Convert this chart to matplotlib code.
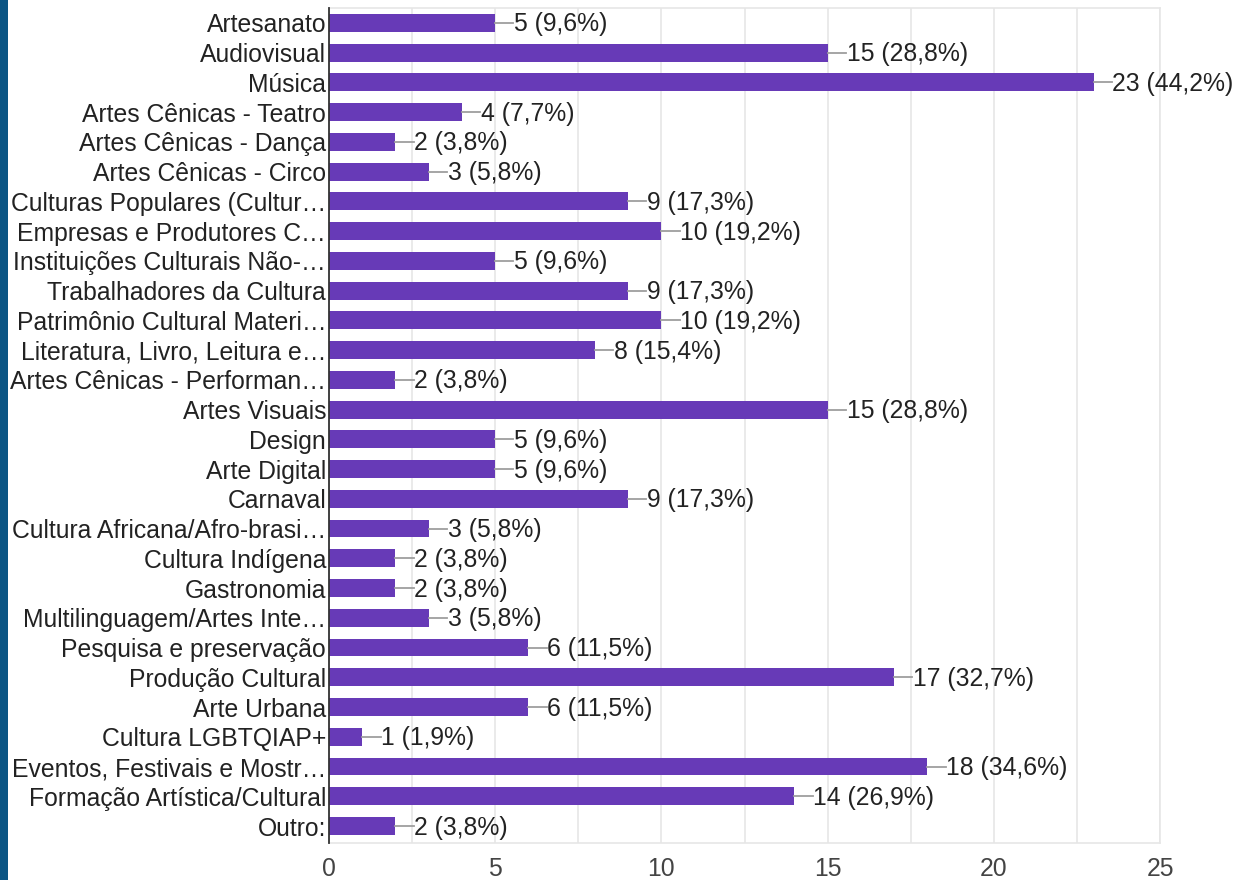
import matplotlib
matplotlib.use("Agg")
import matplotlib.pyplot as plt
from matplotlib.patches import Rectangle
from matplotlib.ticker import MultipleLocator

categories = [
    "Artesanato", "Audiovisual", "Música", "Artes Cênicas - Teatro",
    "Artes Cênicas - Dança", "Artes Cênicas - Circo", "Culturas Populares (Cultur…",
    "Empresas e Produtores C…", "Instituições Culturais Não-…", "Trabalhadores da Cultura",
    "Patrimônio Cultural Materi…", "Literatura, Livro, Leitura e…", "Artes Cênicas - Performan…",
    "Artes Visuais", "Design", "Arte Digital", "Carnaval", "Cultura Africana/Afro-brasi…",
    "Cultura Indígena", "Gastronomia", "Multilinguagem/Artes Inte…", "Pesquisa e preservação",
    "Produção Cultural", "Arte Urbana", "Cultura LGBTQIAP+", "Eventos, Festivais e Mostr…",
    "Formação Artística/Cultural", "Outro:",
]
counts = [5, 15, 23, 4, 2, 3, 9, 10, 5, 9, 10, 8, 2, 15, 5, 5, 9, 3, 2, 2, 3, 6, 17, 6, 1, 18, 14, 2]
percents = ["9,6%", "28,8%", "44,2%", "7,7%", "3,8%", "5,8%", "17,3%", "19,2%", "9,6%", "17,3%",
            "19,2%", "15,4%", "3,8%", "28,8%", "9,6%", "9,6%", "17,3%", "5,8%", "3,8%", "3,8%",
            "5,8%", "11,5%", "32,7%", "11,5%", "1,9%", "34,6%", "26,9%", "3,8%"]
xticks = [0, 5, 10, 15, 20, 25]

plt.rcParams['font.family'] = ['Liberation Sans', 'DejaVu Sans']
FS = 17.8

fig = plt.figure(figsize=(12.37, 8.8), dpi=100)
fig.patches.append(Rectangle((0, 0), 8 / 1237, 1, transform=fig.transFigure,
                             facecolor="#0b5584", edgecolor="none", zorder=0))
ax = fig.add_axes([329 / 1237, 37 / 880, (1160 - 329) / 1237, (843 - 8) / 880])

n = len(categories)
ypos = list(range(n))
ax.barh(ypos, counts, height=0.6, color="#673ab7", zorder=3)
for y, c, p in zip(ypos, counts, percents):
    ax.plot([c, c + 0.55], [y, y], color="#9e9e9e", lw=1.3, zorder=3)
    ax.text(c + 0.57, y + 0.05, f"{c} ({p})", va="center", ha="left", fontsize=FS, color="#222222")

ax.set_ylim(n - 1 + 0.57, -0.5)
ax.set_xlim(0, 25)
ax.set_yticks(ypos)
ax.set_yticklabels(categories, fontsize=FS, color="#222222")
ax.set_xticks(xticks)
ax.set_xticklabels([str(t) for t in xticks], fontsize=FS, color="#444444")
ax.xaxis.set_minor_locator(MultipleLocator(2.5))
ax.tick_params(axis="both", which="both", length=0)
ax.tick_params(axis="x", pad=10)
ax.tick_params(axis="y", pad=2)
ax.grid(axis="x", which="both", color="#e6e6e6", lw=1.2, zorder=0)
ax.set_axisbelow(True)
for s in ["top", "right", "bottom"]:
    ax.spines[s].set_color("#e6e6e6")
    ax.spines[s].set_linewidth(1.2)
ax.spines["left"].set_color("#333333")
ax.spines["left"].set_linewidth(1.3)
ax.spines["left"].set_zorder(4)

fig.savefig("out.png", dpi=100)
